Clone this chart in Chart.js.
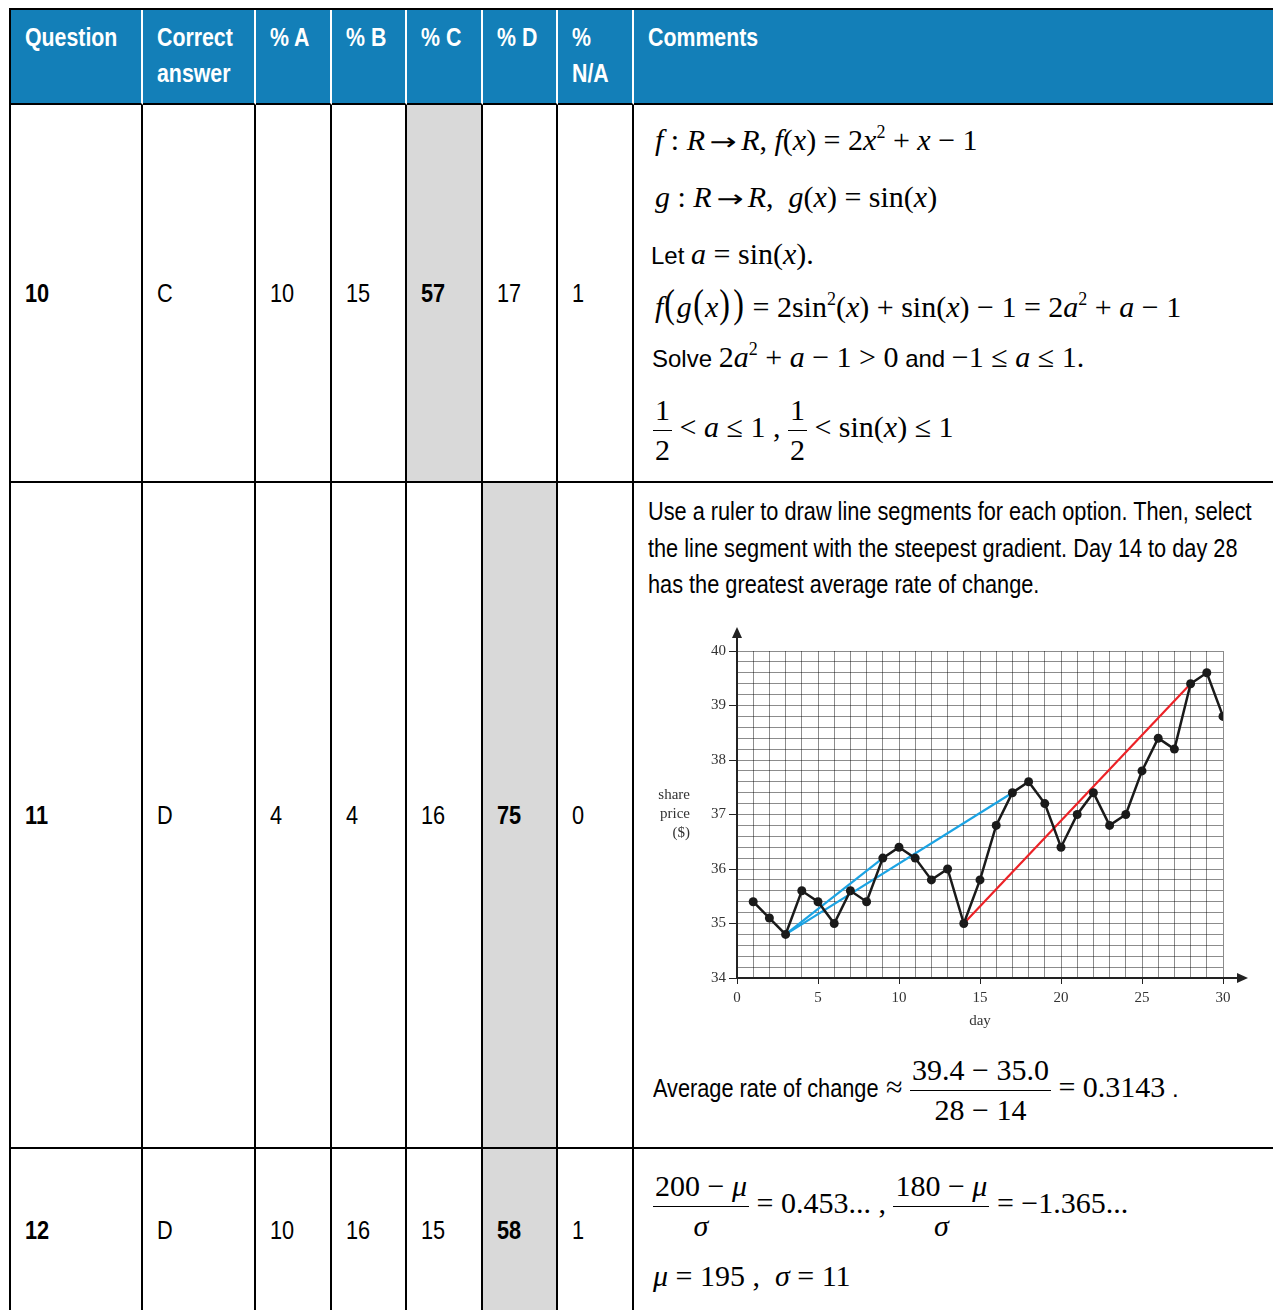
<!DOCTYPE html>
<html>
<head>
<meta charset="utf-8">
<script src="https://cdn.jsdelivr.net/npm/chart.js@4.4.1/dist/chart.umd.min.js"></script>
<style>
  html, body { margin: 0; padding: 0; background: #fff; overflow: hidden; width: 1273px; height: 1310px; }
  table {
    position: absolute; left: 9px; top: 8px; width: 1281px;
    border-collapse: separate; border-spacing: 0; table-layout: fixed;
    border-left: 2px solid #000; border-top: 2px solid #000;
  }
  th, td {
    box-sizing: border-box; border-right: 2px solid #000; border-bottom: 2px solid #000;
    padding: 0 0 0 14px; text-align: left;
    font-family: "Liberation Sans", Arial, sans-serif; font-size: 26.5px; color: #000;
  }
  th {
    background: #137fb8; color: #fff; font-weight: bold; vertical-align: top; font-size: 26px;
    padding-top: 9px; line-height: 36px; border-right-color: #fff; border-bottom-color: #000;
  }
  td { vertical-align: middle; }
  td.hl { background: #d9d9d9; }
  td.b { font-weight: bold; }
  td.cm { padding: 0; position: relative; vertical-align: top; }

  /* narrow sans: Arial scaled horizontally */
  .nw { display: inline-block; transform: scaleX(0.82); transform-origin: 0 50%; white-space: nowrap; }

  .ln { position: absolute; height: 0; display: flex; align-items: center; white-space: nowrap; }
  .m { font-family: "Liberation Serif", "Times New Roman", serif; font-size: 30px; }
  .m sup { font-size: 18px; vertical-align: 12px; line-height: 0; }
  .t { font-family: "Liberation Sans", Arial, sans-serif; font-size: 24px; }
  .n { font-family: "Liberation Sans", Arial, sans-serif; font-size: 26.5px; }
  .ar { display: inline-block; font-family: "DejaVu Sans", sans-serif; font-size: 24px; transform: scaleX(1.35); margin: 0 8px; }
  .bp { font-size: 40px; display: inline-block; transform: scaleX(0.8); }
  .frac { display: inline-flex; flex-direction: column; vertical-align: middle; text-align: center; }
  .frac .nu { border-bottom: 1.5px solid #000; padding: 0 2px 2px; line-height: 36px; }
  .frac .de { line-height: 38px; }
  .txt { position: absolute; left: 14px; top: 10px; line-height: 36.5px; white-space: nowrap; }
  .chartbox { position: absolute; left: 11px; top: 132px; width: 625px; height: 430px; }
</style>
</head>
<body>
<table id="tbl">
  <tr style="height:95px">
    <th style="width:132px"><span class="nw">Question</span></th>
    <th style="width:113px"><span class="nw">Correct<br>answer</span></th>
    <th style="width:76px"><span class="nw">% A</span></th>
    <th style="width:75px"><span class="nw">% B</span></th>
    <th style="width:76px"><span class="nw">% C</span></th>
    <th style="width:75px"><span class="nw">% D</span></th>
    <th style="width:76px"><span class="nw">%<br>N/A</span></th>
    <th style="width:656px"><span class="nw">Comments</span></th>
  </tr>
  <tr style="height:378px">
    <td class="cm">
      <div class="ln m" style="left:21px;top:35px"><span><i>f</i> : <i>R</i><span class="ar">→</span><i>R</i>, <i>f</i>(<i>x</i>) = 2<i>x</i><sup>2</sup> + <i>x</i> − 1</span></div>
      <div class="ln m" style="left:21px;top:92px"><span><i>g</i> : <i>R</i><span class="ar">→</span><i>R</i>,&nbsp; <i>g</i>(<i>x</i>) = sin(<i>x</i>)</span></div>
      <div class="ln m" style="left:17px;top:149px"><span><span class="t">Let </span><i>a</i> = sin(<i>x</i>).</span></div>
      <div class="ln m" style="left:21px;top:198px"><span><i>f</i><span class="bp">(</span><i>g</i><span class="bp">(</span><i>x</i><span class="bp">)</span><span class="bp">)</span> = 2sin<sup>2</sup>(<i>x</i>) + sin(<i>x</i>) − 1 = 2<i>a</i><sup>2</sup> + <i>a</i> − 1</span></div>
      <div class="ln m" style="left:18px;top:252px"><span><span class="t">Solve </span>2<i>a</i><sup>2</sup> + <i>a</i> − 1 &gt; 0<span class="t"> and </span> −1 ≤ <i>a</i> ≤ 1.</span></div>
      <div class="ln m" style="left:19px;top:325px"><span><span class="frac"><span class="nu">1</span><span class="de">2</span></span> &lt; <i>a</i> ≤ 1 , <span class="frac"><span class="nu">1</span><span class="de">2</span></span> &lt; sin(<i>x</i>) ≤ 1</span></div>
    </td>
  </tr>
  <tr style="height:666px">
    <td class="cm">
      <div class="txt n nw">Use a ruler to draw line segments for each option. Then, select<br>the line segment with the steepest gradient. Day 14 to day 28<br>has the greatest average rate of change.</div>
      <div class="chartbox"><canvas id="shareChart" width="625" height="430"></canvas></div>
      <div class="ln m" style="left:19px;top:607px"><span><span class="n nw fix">Average rate of change</span> ≈ <span class="frac"><span class="nu">39.4 − 35.0</span><span class="de">28 − 14</span></span> = 0.3143<span class="t"> .</span></span></div>
    </td>
  </tr>
  <tr style="height:164px">
    <td class="cm">
      <div class="ln m" style="left:19px;top:57px"><span><span class="frac"><span class="nu">200 − <i>μ</i></span><span class="de"><i>σ</i></span></span> = 0.453... , <span class="frac"><span class="nu">180 − <i>μ</i></span><span class="de"><i>σ</i></span></span> = −1.365...</span></div>
      <div class="ln m" style="left:19px;top:127px"><span><i>μ</i> = 195 ,&nbsp; <i>σ</i> = 11</span></div>
    </td>
  </tr>
</table>

<script>
// ── Table data ───────────────────────────────────────────────────────────────
const questions = ['10', '11', '12'];
const correctAnswer = ['C', 'D', 'D'];
const pctA = [10, 4, 10];
const pctB = [15, 4, 16];
const pctC = [57, 16, 15];
const pctD = [17, 75, 58];
const pctNA = [1, 0, 1];

// ── Chart data: share price per day ──────────────────────────────────────────
const days = [1, 2, 3, 4, 5, 6, 7, 8, 9, 10, 11, 12, 13, 14, 15,
              16, 17, 18, 19, 20, 21, 22, 23, 24, 25, 26, 27, 28, 29, 30];
const sharePrice = [35.4, 35.1, 34.8, 35.6, 35.4, 35.0, 35.6, 35.4, 36.2, 36.4,
                    36.2, 35.8, 36.0, 35.0, 35.8, 36.8, 37.4, 37.6, 37.2, 36.4,
                    37.0, 37.4, 36.8, 37.0, 37.8, 38.4, 38.2, 39.4, 39.6, 38.8];
const xTickLabels = [0, 5, 10, 15, 20, 25, 30];
const yTickLabels = [34, 35, 36, 37, 38, 39, 40];

// option segments (start day, end day)
const blueSegmentA = [3, 9];
const blueSegmentB = [3, 17];
const redSegment = [14, 28];

// ── Fill the table rows ──────────────────────────────────────────────────────
const rows = document.querySelectorAll('#tbl tr');
questions.forEach((q, i) => {
  const tr = rows[i + 1];
  const comment = tr.querySelector('td.cm');
  const letters = ['A', 'B', 'C', 'D'];
  const pct = [pctA[i], pctB[i], pctC[i], pctD[i]];
  const cells = [{ text: q, cls: 'b' }, { text: correctAnswer[i], cls: '' }];
  pct.forEach((p, k) => cells.push({ text: p, cls: letters[k] === correctAnswer[i] ? 'b hl' : '' }));
  cells.push({ text: pctNA[i], cls: '' });
  cells.forEach(c => {
    const td = document.createElement('td');
    const sp = document.createElement('span');
    sp.className = 'nw';
    sp.textContent = c.text;
    td.appendChild(sp);
    if (c.cls) td.className = c.cls;
    tr.insertBefore(td, comment);
  });
});

// squeezed inline text: give back the width the scaling removed
document.querySelectorAll('.fix').forEach(el => {
  el.style.marginRight = -(el.offsetWidth * 0.18) + 'px';
});

// ── Chart ────────────────────────────────────────────────────────────────────
const pointAt = d => ({ x: d, y: sharePrice[days.indexOf(d)] });
const segment = s => s.map(pointAt);

const axisExtras = {
  id: 'axisExtras',
  afterDraw(chart) {
    const { ctx, chartArea: a, scales: { y } } = chart;
    ctx.save();
    ctx.strokeStyle = '#222';
    ctx.fillStyle = '#222';
    ctx.lineWidth = 2;
    // y axis arrow
    ctx.beginPath(); ctx.moveTo(a.left, a.top); ctx.lineTo(a.left, a.top - 16); ctx.stroke();
    ctx.beginPath(); ctx.moveTo(a.left, a.top - 24); ctx.lineTo(a.left - 5, a.top - 13); ctx.lineTo(a.left + 5, a.top - 13); ctx.closePath(); ctx.fill();
    // x axis arrow
    ctx.beginPath(); ctx.moveTo(a.right, a.bottom); ctx.lineTo(a.right + 16, a.bottom); ctx.stroke();
    ctx.beginPath(); ctx.moveTo(a.right + 25, a.bottom); ctx.lineTo(a.right + 14, a.bottom - 5); ctx.lineTo(a.right + 14, a.bottom + 5); ctx.closePath(); ctx.fill();
    // horizontal y title
    ctx.font = '15px "Liberation Serif", serif';
    ctx.fillStyle = '#333';
    ctx.textAlign = 'right';
    ctx.textBaseline = 'middle';
    const mid = y.getPixelForValue((y.min + y.max) / 2);
    ['share', 'price', '($)'].forEach((t, i) => ctx.fillText(t, a.left - 47, mid + (i - 1) * 19));
    ctx.restore();
  }
};

const gridColor = 'rgba(0,0,0,0.45)';
const tickFont = { family: '"Liberation Serif", serif', size: 15 };

new Chart(document.getElementById('shareChart'), {
  type: 'scatter',
  data: {
    datasets: [
      {
        data: days.map(pointAt),
        showLine: true,
        borderColor: '#1a1a1a',
        borderWidth: 2.5,
        pointRadius: 4.5,
        pointBackgroundColor: '#1a1a1a',
        pointBorderWidth: 0
      },
      { data: segment(blueSegmentA), showLine: true, borderColor: '#1ba3e3', borderWidth: 2.2, pointRadius: 0 },
      { data: segment(blueSegmentB), showLine: true, borderColor: '#1ba3e3', borderWidth: 2.2, pointRadius: 0 },
      { data: segment(redSegment), showLine: true, borderColor: '#ec2227', borderWidth: 2.2, pointRadius: 0 }
    ]
  },
  options: {
    responsive: false,
    animation: false,
    devicePixelRatio: 1,
    layout: { padding: { top: 36, right: 47, left: 0, bottom: 0 } },
    plugins: { legend: { display: false }, tooltip: { enabled: false } },
    scales: {
      x: {
        type: 'linear', min: 0, max: 30,
        afterFit: s => { s.height = 67; },
        ticks: {
          stepSize: 1, autoSkip: false, maxRotation: 0, padding: 5,
          color: '#333', font: tickFont,
          callback: v => xTickLabels.includes(v) ? String(v) : ''
        },
        grid: {
          color: gridColor, lineWidth: 1, tickLength: 6,
          tickColor: c => xTickLabels.includes(c.tick.value) ? '#222' : 'rgba(0,0,0,0)'
        },
        border: { color: '#222', width: 2 },
        title: { display: true, text: 'day', color: '#333', font: tickFont, padding: { top: 0, bottom: 15 } }
      },
      y: {
        type: 'linear', min: 34, max: 40,
        afterFit: s => { s.width = 92; },
        ticks: {
          stepSize: 0.2, autoSkip: false, padding: 3,
          color: '#333', font: tickFont,
          callback: v => yTickLabels.find(t => Math.abs(t - v) < 1e-6) !== undefined ? String(Math.round(v)) : ''
        },
        grid: {
          color: gridColor, lineWidth: 1, tickLength: 8,
          tickColor: c => yTickLabels.some(t => Math.abs(t - c.tick.value) < 1e-6) ? '#222' : 'rgba(0,0,0,0)'
        },
        border: { color: '#222', width: 2 }
      }
    }
  },
  plugins: [axisExtras]
});
</script>
</body>
</html>
